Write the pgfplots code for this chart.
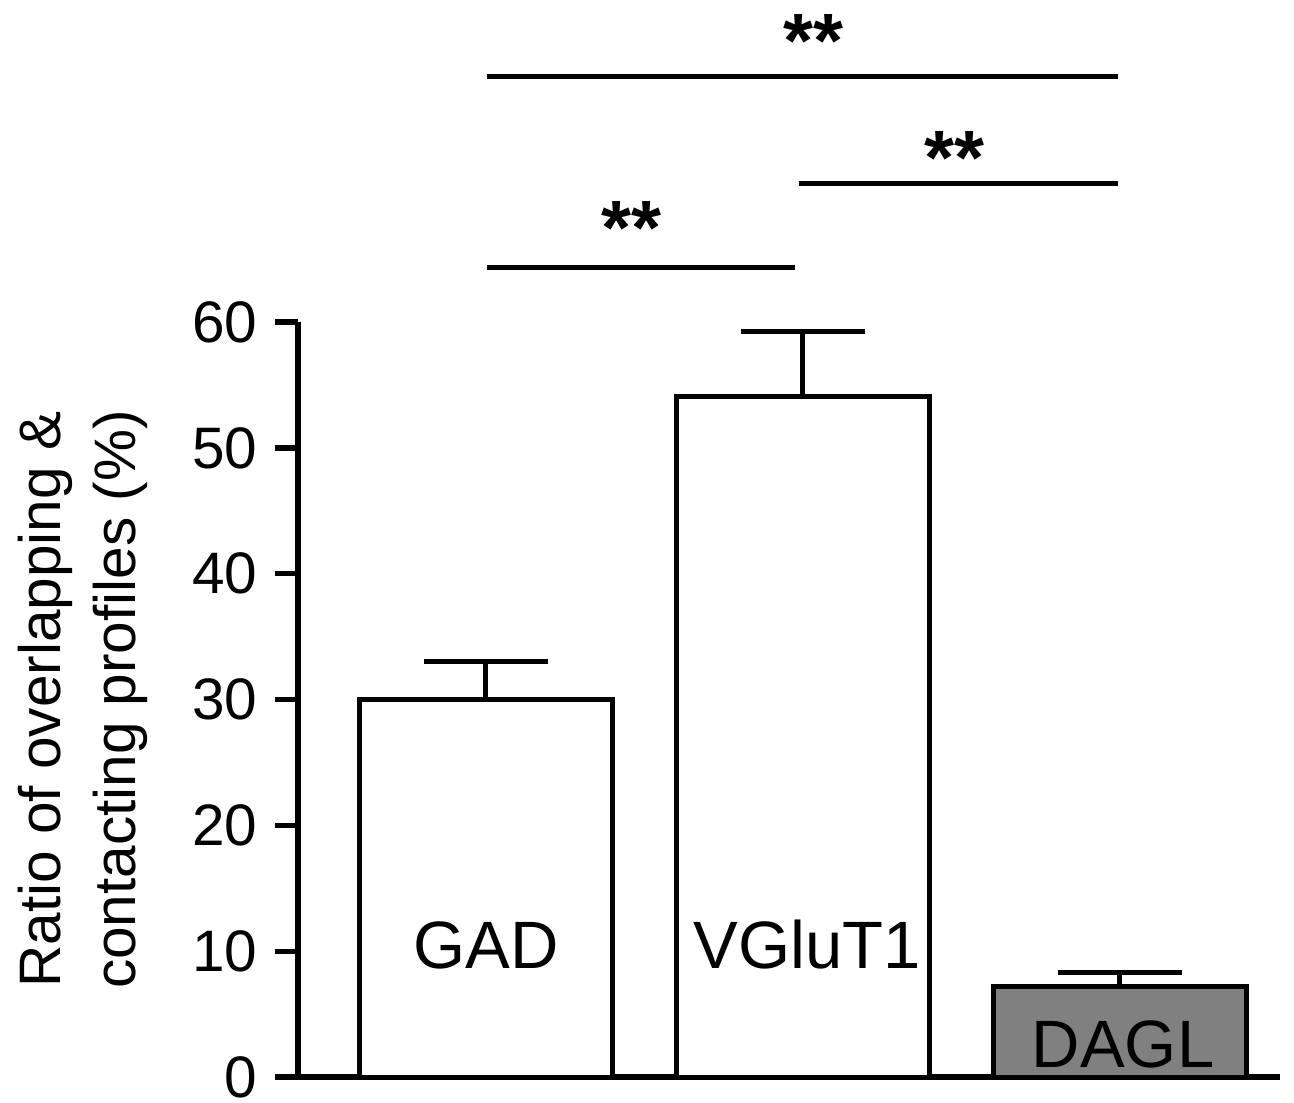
\documentclass[border=0pt]{standalone}
\usepackage{fontspec}
\setmainfont{Liberation Sans}
\usepackage{pgfplots}
\pgfplotsset{compat=1.18}
\definecolor{daglgray}{RGB}{128,128,128}
\begin{document}
\begin{tikzpicture}
\begin{axis}[
  scale only axis, width=196.4pt, height=151pt,
  xmin=-0.593, xmax=2.505, ymin=0, ymax=60,
  axis x line=bottom, axis y line=left,
  axis line style={-, line width=1.1pt},
  xtick=\empty,
  ytick={0,10,...,60},
  tick align=outside, major tick length=4.6pt,
  every tick/.style={black, line width=1.1pt},
  yticklabel style={font=\fontsize{11.7}{14}\selectfont, /pgf/number format/assume math mode=true},
  ylabel={Ratio of overlapping \&\\contacting profiles (\%)},
  ylabel style={font=\fontsize{11.7}{15}\selectfont, align=center, inner sep=0pt, at={(axis description cs:-0.152,0.5)}, anchor=south},
  clip=false,
]
\addplot[ybar, bar width=0.8, bar shift=0pt, draw=black, fill=white, line width=1pt,
  error bars/.cd, y dir=plus, y explicit,
  error bar style={line width=1pt, black},
  error mark options={rotate=90, mark size=12.4pt, line width=1pt, black}]
  coordinates {(0,30.0) +- (0,3.0) (1,54.1) +- (0,5.15)};
\addplot[ybar, bar width=0.8, bar shift=0pt, draw=black, fill=daglgray, line width=1pt,
  error bars/.cd, y dir=plus, y explicit,
  error bar style={line width=1pt, black},
  error mark options={rotate=90, mark size=12.4pt, line width=1pt, black}]
  coordinates {(2,7.2) +- (0,1.15)};
\node[anchor=base, font=\fontsize{13.4}{16}\selectfont, inner sep=0pt] at (axis cs:0,8.66) {GAD};
\node[anchor=base, font=\fontsize{13.4}{16}\selectfont, inner sep=0pt] at (axis cs:1.013,8.66) {VGluT1};
\node[anchor=base, font=\fontsize{13.4}{16}\selectfont, inner sep=0pt] at (axis cs:2.01,0.8) {DAGL};
\draw[line width=1pt] (axis cs:0.003,64.37) -- (axis cs:0.975,64.37);
\draw[line width=1pt] (axis cs:0.987,70.97) -- (axis cs:1.993,70.97);
\draw[line width=1pt] (axis cs:0.003,79.55) -- (axis cs:1.993,79.55);
\node[anchor=base, font=\bfseries\fontsize{15.4}{18}\selectfont, inner sep=0pt] at (axis cs:0.459,65.35) {**};
\node[anchor=base, font=\bfseries\fontsize{15.4}{18}\selectfont, inner sep=0pt] at (axis cs:1.479,70.95) {**};
\node[anchor=base, font=\bfseries\fontsize{15.4}{18}\selectfont, inner sep=0pt] at (axis cs:1.032,80.25) {**};
\coordinate (bl) at (axis cs:-1.533,-1.987);
\coordinate (tr) at (axis cs:2.549,85.59);
\end{axis}
\pgfresetboundingbox
\useasboundingbox (bl) rectangle (tr);
\end{tikzpicture}
\end{document}
